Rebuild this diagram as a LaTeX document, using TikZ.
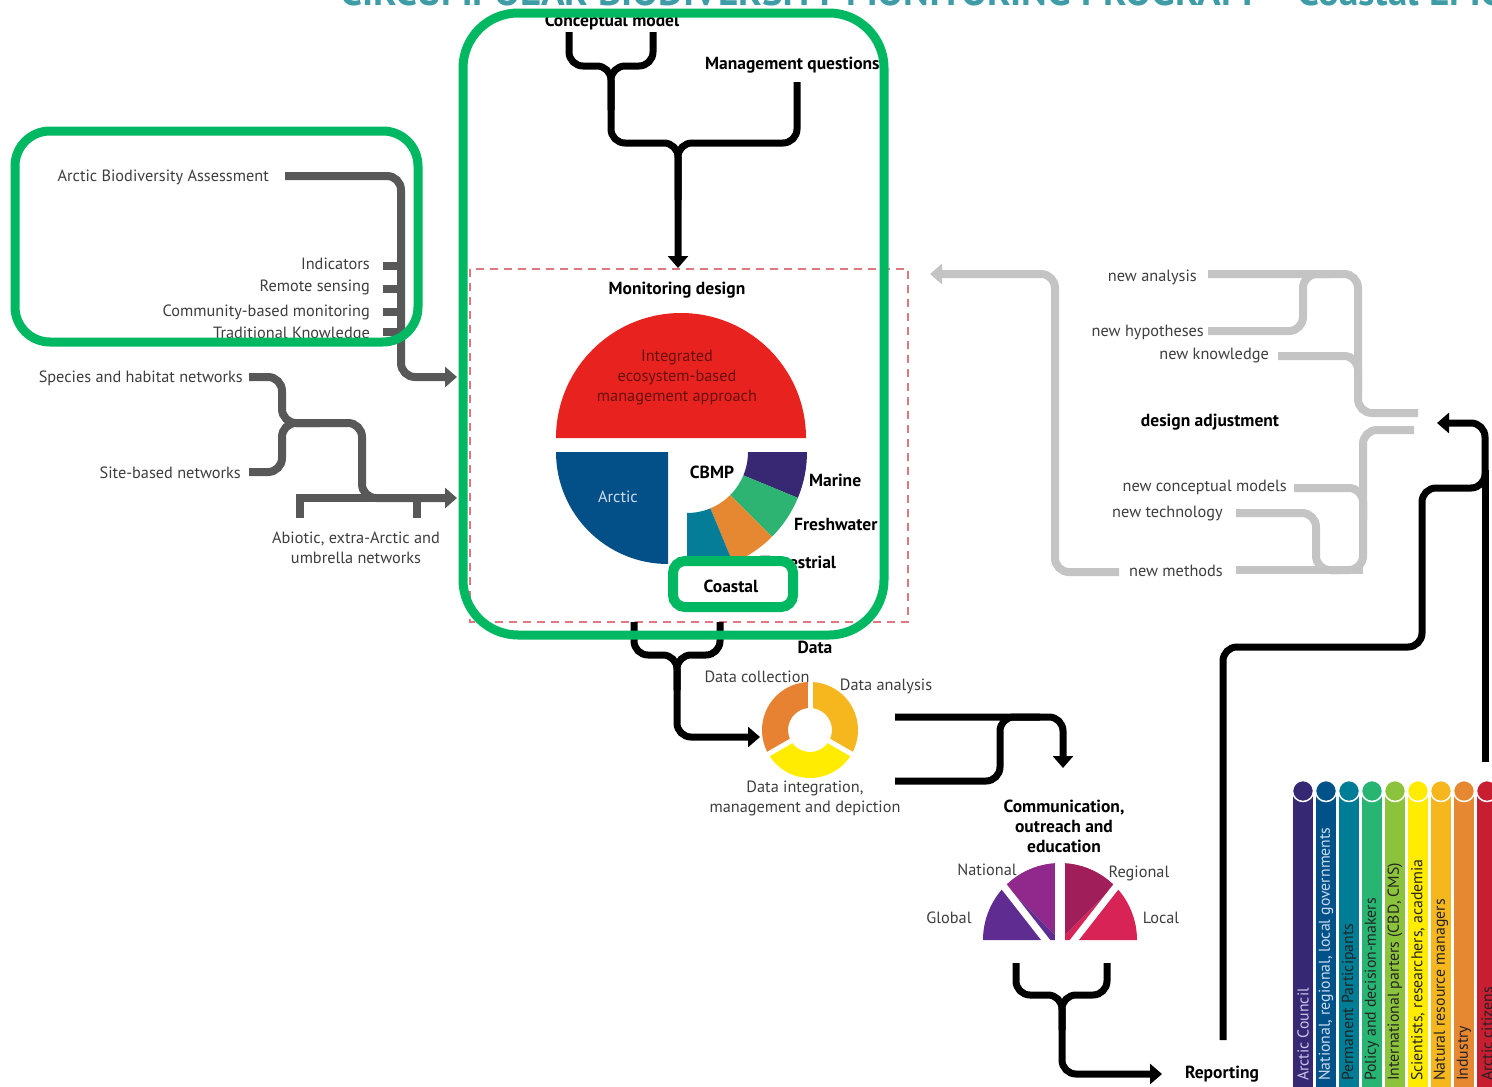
\documentclass[tikz,border=0pt]{standalone}
\usepackage{fontspec}
\setmainfont{PT Sans}
\usetikzlibrary{arrows.meta}
\definecolor{hlgreen}{RGB}{0,184,98}
\definecolor{titleteal}{RGB}{62,156,166}
\definecolor{darkline}{RGB}{88,88,88}
\definecolor{lightline}{RGB}{196,196,196}
\definecolor{txtgray}{RGB}{62,62,62}
\definecolor{dashred}{RGB}{222,120,128}
\definecolor{ebmred}{RGB}{232,35,31}
\definecolor{ebmtext}{RGB}{105,15,15}
\definecolor{arcticblue}{RGB}{3,80,136}
\definecolor{marine}{RGB}{56,40,116}
\definecolor{freshwater}{RGB}{45,180,115}
\definecolor{terrestrial}{RGB}{230,135,50}
\definecolor{coastal}{RGB}{5,125,152}
\definecolor{dcollect}{RGB}{230,130,50}
\definecolor{danalysis}{RGB}{245,182,30}
\definecolor{dintegr}{RGB}{255,236,0}
\definecolor{cglobal}{RGB}{95,45,145}
\definecolor{cnational}{RGB}{145,40,140}
\definecolor{cregional}{RGB}{160,30,90}
\definecolor{clocal}{RGB}{215,35,85}
\definecolor{sh1}{RGB}{55,40,115}
\definecolor{sh2}{RGB}{0,82,136}
\definecolor{sh3}{RGB}{0,125,150}
\definecolor{sh4}{RGB}{40,180,115}
\definecolor{sh5}{RGB}{140,195,60}
\definecolor{sh6}{RGB}{255,236,0}
\definecolor{sh7}{RGB}{245,182,30}
\definecolor{sh8}{RGB}{230,135,50}
\definecolor{sh9}{RGB}{200,30,50}
\definecolor{lightA}{RGB}{205,195,235}
\definecolor{lightB}{RGB}{205,220,240}
\definecolor{darkT}{RGB}{35,35,35}

\begin{document}
\begin{tikzpicture}
  [x=1pt,y=-1pt,
  lbl/.style={inner sep=0pt, text=txtgray, font=\fontsize{16.3}{20}\selectfont},
  bold/.style={inner sep=0pt, text=black, font=\bfseries\fontsize{17.5}{20}\selectfont},
  blk/.style={draw=black, line width=7pt, rounded corners=14pt},
  dgrey/.style={draw=darkline, line width=8pt, rounded corners=14pt},
  lgrey/.style={draw=lightline, line width=8pt, rounded corners=14pt},
  tip/.style={-{Triangle[width=20pt,length=12pt]}},
  hl/.style={draw=hlgreen, line width=9pt, rounded corners=#1},
  dashbox/.style={draw=dashred, line width=2pt, dash pattern=on 8pt off 6pt}]
  \fill[white] (0,0) rectangle (1492,1087);
  \useasboundingbox (0,0) rectangle (1492,1087);
  \node[anchor=base west, inner sep=0pt, text=titleteal, font=\bfseries\fontsize{39}{42}\selectfont] (title) at (340,5) {CIRCUMPOLAR BIODIVERSITY MONITORING PROGRAM -- Coastal EMG};

  % monitoring design
  \draw[dashbox] (470,269) rectangle (908,622);
  \node[bold] (mdes) at (677,290) {Monitoring design};
  \fill[ebmred] (556,438) arc[start angle=180, end angle=0, radius=125pt] -- cycle;
  \node[lbl, text=ebmtext, align=center] (iebm) at (677,378) {Integrated\\ecosystem-based\\management approach};
  \fill[arcticblue] (668,452) -- +(180:112pt) arc[start angle=180, end angle=270, radius=112pt] -- cycle;
  \node[lbl, text=lightB] (arctic) at (618,497) {Arctic};
  \foreach \c/\a/\b in {marine/0/-22.5, freshwater/-22.5/-45, terrestrial/-45/-67.5, coastal/-67.5/-90}
    \fill[\c] ([shift={(\a:120pt)}]687,452) arc[start angle=\a, end angle=\b, radius=120pt]
      -- ([shift={(\b:61pt)}]687,452) arc[start angle=\b, end angle=\a, radius=61pt] -- cycle;
  \node[bold] (cbmp) at (712,472) {CBMP};
  \node[bold, anchor=west] (mar) at (809,480) {Marine};
  \node[bold, anchor=west] (fw) at (794,524) {Freshwater};
  \node[bold, anchor=west] (ter) at (760,562) {Terrestrial};
  \draw[hl=12pt, fill=white, line width=10pt] (673,561) rectangle (793,607);
  \node[bold] (coast) at (731,586) {Coastal};

  % inputs
  \node[bold] (cmod) at (612,22) {Conceptual model};
  \node[bold, anchor=west] (mq) at (705,65) {Management questions};
  \draw[blk, tip] (569,32) |- (611,66) |- (678,143) -- (678,268);
  \draw[blk] (653,32) |- (611,66) -- (611,110);
  \draw[blk] (797,82) |- (678,143) -- (678,200);

  \node[lbl, anchor=east] (aba) at (269,177) {Arctic Biodiversity Assessment};
  \node[lbl, anchor=east] (ind) at (370,264) {Indicators};
  \node[lbl, anchor=east] (rs) at (370,287) {Remote sensing};
  \node[lbl, anchor=east] (cbm) at (370,312) {Community-based monitoring};
  \node[lbl, anchor=east] (tk) at (370,334) {Traditional Knowledge};
  \draw[dgrey, tip] (285,176) -| (401,377) -- (457,377);
  \foreach \y in {266,289,312,332}
    \draw[dgrey] (383,\y) -- (401,\y);
  \node[lbl, anchor=east] (shn) at (243,378) {Species and habitat networks};
  \node[lbl, anchor=east] (sbn) at (241,473) {Site-based networks};
  \node[lbl, align=center] (abi) at (356,548) {Abiotic, extra-Arctic and\\umbrella networks};
  \draw[dgrey, tip] (249,377) -| (282,423) -| (362,498) -- (457,498);
  \draw[dgrey] (249,472) -| (282,423) -- (320,423);
  \draw[dgrey, rounded corners=0pt] (300,518) |- (420,498);
  \draw[dgrey, rounded corners=0pt] (417,518) -- (417,498);

  % data
  \draw[blk, tip] (634,622) |- (677,655) |- (760,737);
  \draw[blk] (720,622) |- (677,655) -- (677,690);
  \foreach \c/\a/\b in {dcollect/90/210, dintegr/210/330, danalysis/330/450}
    \fill[\c] ([shift={(\a:48pt)}]810,730) arc[start angle=\a, end angle=\b, radius=48pt]
      -- ([shift={(\b:22pt)}]810,730) arc[start angle=\b, end angle=\a, radius=22pt] -- cycle;
  \foreach \a in {90,210,330}
    \draw[white, line width=5pt] (810,730) -- +(\a:50pt);
  \node[bold] (data) at (815,647) {Data};
  \node[lbl] (dcol) at (757,677) {Data collection};
  \node[lbl] (dana) at (886,686) {Data analysis};
  \node[lbl, align=center] (dint) at (805,798) {Data integration,\\management and depiction};
  \draw[blk, tip] (895,717) -| (1063,768);
  \draw[blk] (895,781) -| (1000,717) -- (1040,717);

  % communication
  \node[bold, align=center] (coe) at (1064,826) {Communication,\\outreach and\\education};
  \foreach \c/\a/\b in {clocal/0/45, cregional/45/90, cnational/90/135, cglobal/135/180}
    \fill[\c] (1060,940) -- +(\a:77pt) arc[start angle=\a, end angle=\b, radius=77pt] -- cycle;
  \draw[white, line width=10pt] (1060,945) -- +(90:82pt);
  \draw[white, line width=7pt] (1048,943) -- +(128:82pt);
  \draw[white, line width=7pt] (1072,943) -- +(52:82pt);
  \node[lbl] (natl) at (987,870) {National};
  \node[lbl] (reg) at (1139,873) {Regional};
  \node[lbl] (glob) at (949,918) {Global};
  \node[lbl] (loc) at (1161,918) {Local};
  \draw[blk, tip] (1016,963) |- (1062,995) |- (1162,1074);
  \draw[blk] (1107,963) |- (1062,995) -- (1062,1030);
  \node[bold] (rep) at (1222,1074) {Reporting};

  % feedback
  \draw[blk, tip] (1223,1040) |- (1422,647) |- (1485,488) |- (1437,423);
  \draw[blk] (1485,762) -- (1485,470);
  \node[bold] (dadj) at (1210,422) {design adjustment};
  \node[lbl, anchor=east] (nan) at (1197,277) {new analysis};
  \node[lbl, anchor=east] (nhy) at (1204,332) {new hypotheses};
  \node[lbl, anchor=east] (nkn) at (1269,356) {new knowledge};
  \node[lbl, anchor=east] (ncm) at (1287,487) {new conceptual models};
  \node[lbl, anchor=east] (nte) at (1223,514) {new technology};
  \node[lbl, anchor=east] (nme) at (1223,571) {new methods};
  \draw[lgrey] (1208,274) -| (1358,413) -- (1418,413);
  \draw[lgrey] (1208,331) -| (1303,274) -- (1330,274);
  \draw[lgrey] (1278,356) -| (1358,392);
  \draw[lgrey] (1414,430) -| (1363,570) -- (1330,570);
  \draw[lgrey] (1294,488) -| (1363,520);
  \draw[lgrey] (1236,513) -| (1316,570) -- (1340,570);
  \draw[lgrey] (1236,570) -- (1363,570);
  \draw[lgrey, tip] (1119,572) -| (1055,274) -- (930,274);

  % stakeholders
  \foreach \c/\t/\tc [count=\i from 0] in {sh1/Arctic Council/lightA, sh2/{National, regional, local governments}/lightB,
      sh3/Permanent Participants/darkT, sh4/Policy and decision-makers/darkT, sh5/{International parters (CBD, CMS)}/darkT,
      sh6/{Scientists, researchers, academia}/darkT, sh7/Natural resource managers/darkT, sh8/Industry/darkT, sh9/Arctic citizens/darkT} {
    \fill[\c] (1293+23*\i,795) rectangle (1313+23*\i,1090);
    \filldraw[fill=\c, draw=white, line width=1.5pt] (1303+23*\i,791) circle[radius=10.5pt];
    \node[lbl, text=\tc, rotate=90, anchor=west, font=\fontsize{15.8}{18}\selectfont] (sh\i) at (1303+23*\i,1081) {\t};
  }

  % highlights
  \draw[hl=55pt] (463,13) rectangle (884,635);
  \draw[hl=35pt] (15,131) rectangle (418,342);
\end{tikzpicture}
\end{document}
